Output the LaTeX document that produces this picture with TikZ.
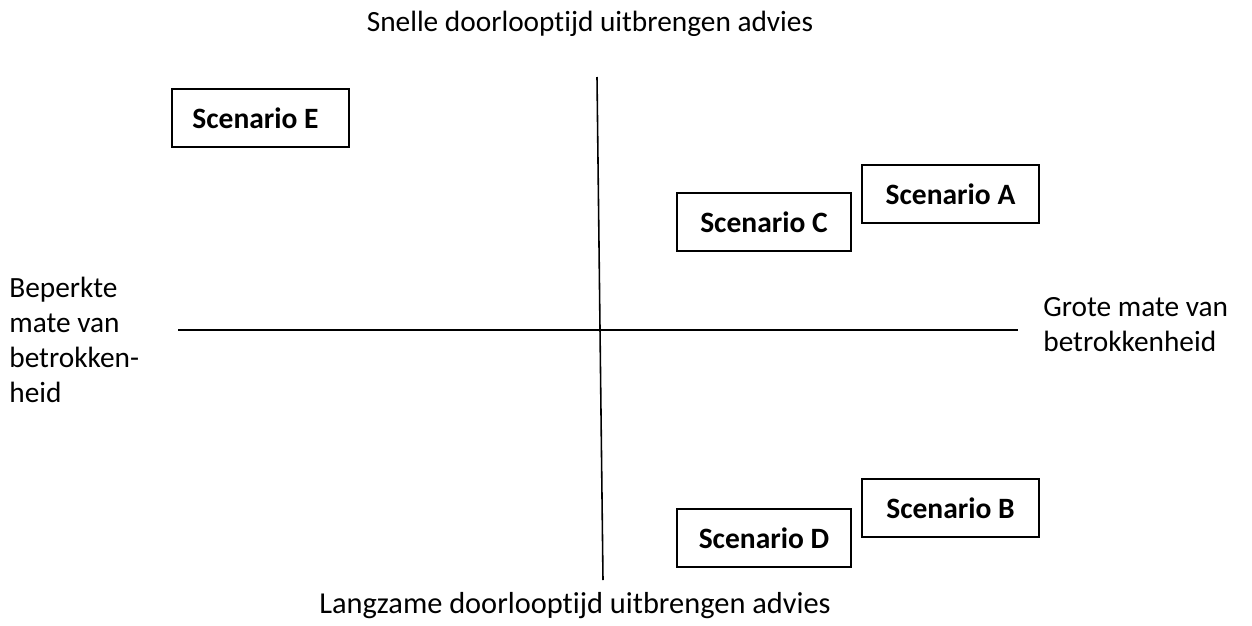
\documentclass[tikz,border=0pt]{standalone}
\usepackage{fontspec}
\setmainfont[Ligatures=NoCommon]{Carlito}
\begin{document}
\begin{tikzpicture}[x=0.02cm,y=-0.02cm,
    scen/.style={draw,line width=0.8pt,font=\fontsize{16.8}{20}\selectfont\bfseries,minimum width=3.5cm,minimum height=1.16cm,inner sep=0pt},
    axlabel/.style={font=\fontsize{16.7}{19.9}\selectfont,inner sep=0pt}]
    \useasboundingbox (0,0) rectangle (1252,626);
    
    \coordinate (top) at (597,77);
    \coordinate (bottom) at (603,580);
    \coordinate (left) at (178,330);
    \coordinate (right) at (1018,330);
    \draw[line width=0.9pt] (left) -- (right);
    \draw[line width=0.9pt] (top) -- (bottom);
    
    \node[axlabel] (fast) at (590,24) {Snelle doorlooptijd uitbrengen advies};
    \node[axlabel,font=\fontsize{17.3}{20}\selectfont] (slow) at (575,606) {Langzame doorlooptijd uitbrengen advies};
    \node[axlabel,anchor=west,align=left] (low) at (9,340) {Beperkte\\mate van\\betrokken-\\heid};
    \node[axlabel,anchor=west,align=left] (high) at (1043,325) {Grote mate van\\betrokkenheid};
    
    \node[scen,minimum width=3.54cm] (E) at (260.5,118) {\hspace*{-0.2cm}Scenario E};
    \node[scen,minimum width=3.48cm] (C) at (764,222) {Scenario C};
    \node[scen,minimum width=3.54cm] (A) at (950.5,194) {Scenario A};
    \node[scen,minimum width=3.48cm] (D) at (764,538) {Scenario D};
    \node[scen,minimum width=3.54cm] (B) at (950.5,508) {Scenario B};
\end{tikzpicture}
\end{document}
